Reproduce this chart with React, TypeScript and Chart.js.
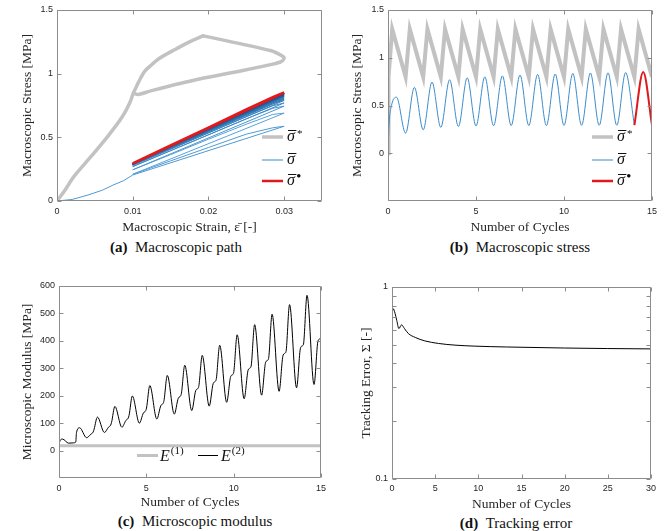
import React, { useEffect, useRef } from 'react';
import { Chart, registerables } from 'chart.js';

Chart.register(...registerables);

const SERIF = '"Liberation Serif", "Times New Roman", serif';
const SANS = '"Liberation Sans", Arial, Helvetica, sans-serif';
const INK = '#262626';
const FRAME = '#8c8c8c';
const GRAY = '#c2c2c2';
const RED = '#e0191c';
const BLUE = '#3b8ccb';

// ---------------- (a) Macroscopic path ----------------
const aXTicks = [0, 0.01, 0.02, 0.03];
const aXLabels = ['0', '0.01', '0.02', '0.03'];
const aYTicks = [0, 0.5, 1, 1.5];
const aYLabels = ['0', '0.5', '1', '1.5'];
// rising part of the reference path (origin -> peak)
const aStarRiseStrain = [0, 0.001, 0.0022, 0.0045, 0.0066, 0.0086, 0.0096, 0.0101, 0.0105, 0.011, 0.0116, 0.0125, 0.0134, 0.0145, 0.0156, 0.0175, 0.0193];
const aStarRiseStress = [0, 0.08, 0.19, 0.35, 0.5, 0.66, 0.77, 0.85, 0.9, 0.96, 1.02, 1.07, 1.115, 1.155, 1.19, 1.25, 1.297];
// falling part (peak -> tip -> lower branch -> back to the knee)
const aStarFallStrain = [0.0193, 0.0283, 0.0297, 0.03, 0.0296, 0.0285, 0.0244, 0.0178, 0.0125, 0.0107, 0.0102];
const aStarFallStress = [1.297, 1.18, 1.14, 1.12, 1.095, 1.075, 1.023, 0.945, 0.867, 0.836, 0.845];
const aInitStrain = [0, 0.002, 0.0041, 0.006, 0.0074, 0.0088, 0.01];
const aInitStress = [0, 0.012, 0.047, 0.085, 0.125, 0.16, 0.204];
const aTrough = [0.204, 0.21, 0.245, 0.27, 0.28, 0.285, 0.288, 0.29, 0.29, 0.29, 0.292, 0.292, 0.293, 0.293, 0.294, 0.295];
const aPeak = [0.587, 0.69, 0.745, 0.77, 0.79, 0.8, 0.81, 0.82, 0.825, 0.83, 0.835, 0.84, 0.842, 0.845, 0.852];
const aUnloadStrain = [0.0285, 0.025, 0.02, 0.015];
const aUnloadStress = [
  [0.575, 0.525, 0.42, 0.315],
  [0.68, 0.603, 0.485, 0.364],
  [0.728, 0.645, 0.52, 0.395],
  [0.748, 0.662, 0.535, 0.407],
  [0.765, 0.676, 0.546, 0.415],
  [0.773, 0.682, 0.551, 0.419],
  [0.781, 0.689, 0.556, 0.423],
  [0.789, 0.696, 0.561, 0.425],
  [0.793, 0.699, 0.563, 0.426],
  [0.797, 0.703, 0.566, 0.429],
  [0.801, 0.706, 0.568, 0.43],
  [0.805, 0.709, 0.571, 0.432],
  [0.807, 0.711, 0.572, 0.432],
  [0.81, 0.713, 0.574, 0.434],
  [0.815, 0.72, 0.577, 0.436],
];
const aLoopColors = ['#4f9ad3', '#5aa2d8', '#4a95cf', '#3f8bc7', '#3783c0', '#307bb8', '#2b74b1', '#276daa', '#2366a3', '#20609c', '#1d5a95', '#1b548e', '#194f88', '#174a82'];

// ---------------- (b) Macroscopic stress ----------------
const bXTicks = [0, 5, 10, 15];
const bXLabels = ['0', '5', '10', '15'];
const bYTicks = [0, 0.5, 1, 1.5];
const bYLabels = ['0', '0.5', '1', '1.5'];
const bStarT = [0, 0.03, 0.24, 1, 1.24, 2, 2.24, 3, 3.24, 4, 4.24, 5, 5.24, 6, 6.24, 7, 7.24, 8, 8.24, 9, 9.24, 10, 10.24, 11, 11.24, 12, 12.24, 13, 13.24, 14, 14.24, 15];
const bStarV = [0, 0.8, 1.3, 0.8, 1.3, 0.8, 1.3, 0.8, 1.3, 0.8, 1.3, 0.8, 1.3, 0.8, 1.3, 0.8, 1.3, 0.8, 1.3, 0.8, 1.3, 0.8, 1.3, 0.8, 1.3, 0.8, 1.3, 0.8, 1.3, 0.8, 1.3, 0.8];
const bSigT = [0, 0.06, 0.2, 0.48, 1, 1.5, 2, 2.5, 3, 3.5, 4, 4.5, 5, 5.5, 6, 6.5, 7, 7.5, 8, 8.5, 9, 9.5, 10, 10.5, 11, 11.5, 12, 12.5, 13, 13.5, 14];
const bSigV = [0, 0.3, 0.5, 0.587, 0.21, 0.69, 0.245, 0.745, 0.27, 0.77, 0.28, 0.79, 0.285, 0.8, 0.288, 0.81, 0.29, 0.82, 0.29, 0.825, 0.29, 0.83, 0.292, 0.835, 0.292, 0.84, 0.293, 0.842, 0.293, 0.845, 0.294];
const bRedT = [14, 14.5, 15];
const bRedV = [0.294, 0.852, 0.295];

// ---------------- (c) Microscopic modulus ----------------
const cXTicks = [0, 5, 10, 15];
const cXLabels = ['0', '5', '10', '15'];
const cYTicks = [0, 100, 200, 300, 400, 500, 600];
const cYLabels = ['0', '100', '200', '300', '400', '500', '600'];
const cE1T = [0, 15];
const cE1V = [18, 18];
const cE2T = [
  0, 0.06, 0.2, 0.55, 0.8, 0.96, 1.0, 1.18, 1.58,
  1.83, 1.96, 2.01, 2.2, 2.6,
  2.83, 2.96, 3.01, 3.2, 3.6,
  3.83, 3.96, 4.01, 4.2, 4.6,
  4.83, 4.96, 5.01, 5.2, 5.6,
  5.83, 5.96, 6.01, 6.2, 6.6,
  6.83, 6.96, 7.01, 7.2, 7.6,
  7.83, 7.96, 8.01, 8.2, 8.6,
  8.83, 8.96, 9.01, 9.2, 9.6,
  9.83, 9.96, 10.01, 10.2, 10.6,
  10.83, 10.96, 11.01, 11.2, 11.6,
  11.83, 11.96, 12.01, 12.2, 12.6,
  12.83, 12.96, 13.01, 13.2, 13.6,
  13.83, 13.96, 14.01, 14.2, 14.6,
  14.83, 14.96, 15,
];
const cE2V = [
  22, 36, 42, 27, 28, 31, 65, 83, 47,
  60, 68, 78, 122, 66,
  85, 93, 103, 161, 85,
  110, 118, 128, 199, 100,
  137, 145, 155, 237, 115,
  164, 172, 182, 274, 133,
  191, 199, 209, 311, 146,
  219, 227, 237, 347, 162,
  245, 253, 263, 384, 176,
  270, 278, 288, 422, 189,
  294, 302, 312, 459, 202,
  322, 330, 340, 497, 216,
  348, 356, 366, 532, 229,
  375, 383, 393, 566, 241,
  400, 408, 412,
];

// ---------------- (d) Tracking error ----------------
const dXTicks = [0, 5, 10, 15, 20, 25, 30];
const dXLabels = ['0', '5', '10', '15', '20', '25', '30'];
const dYTicks = [0.1, 0.2, 0.3, 0.4, 0.5, 0.6, 0.7, 0.8, 0.9, 1];
const dYLabels = ['0.1', '', '', '', '', '', '', '', '', '1'];
const dT = [0, 0.15, 0.35, 0.55, 0.8, 1.1, 1.45, 1.9, 2.7, 3.8, 5.4, 7.3, 9.6, 13.3, 20, 25, 30];
const dV = [0.72, 0.77, 0.73, 0.67, 0.607, 0.635, 0.607, 0.572, 0.546, 0.524, 0.508, 0.498, 0.492, 0.487, 0.481, 0.478, 0.476];

const zip = (xs: number[], ys: number[]) => xs.map((x, i) => ({ x, y: ys[i] }));

function loopPoints(k: number) {
  const pts = [{ x: 0.01, y: aTrough[k] }, { x: 0.03, y: aPeak[k] }];
  aUnloadStrain.forEach((s, i) => pts.push({ x: s, y: aUnloadStress[k][i] }));
  pts.push({ x: 0.01, y: aTrough[k + 1] });
  return pts;
}

function drawSigma(ctx: CanvasRenderingContext2D, x: number, y: number, sup: string) {
  ctx.fillStyle = '#111';
  ctx.textAlign = 'left';
  ctx.textBaseline = 'alphabetic';
  ctx.font = `italic 16px ${SERIF}`;
  const base = y + 4;
  ctx.fillText('σ', x, base);
  const w = ctx.measureText('σ').width;
  ctx.strokeStyle = '#111';
  ctx.lineWidth = 1;
  const oy = Math.round(base - 11) + 0.5;
  ctx.beginPath();
  ctx.moveTo(x + 1, oy);
  ctx.lineTo(x + w + 1.5, oy);
  ctx.stroke();
  if (sup === '*') {
    ctx.font = `11px ${SERIF}`;
    ctx.fillText('*', x + w + 2, base - 4);
  } else if (sup === 'dot') {
    ctx.font = `bold 13px ${SERIF}`;
    ctx.fillText('•', x + w + 1.5, base - 5);
  }
}

type Area = { left: number; right: number; top: number; bottom: number };

function sigmaLegend(ctx: CanvasRenderingContext2D, a: Area) {
  const items = [
    { dy: -64, color: GRAY, width: 3.5, sup: '*' },
    { dy: -41, color: '#5a9fd4', width: 1.2, sup: '' },
    { dy: -20, color: RED, width: 2.5, sup: 'dot' },
  ];
  items.forEach((it) => {
    const y = Math.round(a.bottom) + it.dy;
    ctx.strokeStyle = it.color;
    ctx.lineWidth = it.width;
    ctx.lineCap = 'butt';
    ctx.beginPath();
    ctx.moveTo(a.right - 60, y);
    ctx.lineTo(a.right - 39, y);
    ctx.stroke();
    drawSigma(ctx, a.right - 35, y, it.sup);
  });
}

function eLegend(ctx: CanvasRenderingContext2D, a: Area) {
  const y = Math.round(a.bottom) - 23;
  const items = [
    { x0: 78, x1: 99, tx: 101, color: GRAY, width: 3, sup: '(1)' },
    { x0: 139, x1: 159, tx: 162, color: '#000', width: 1, sup: '(2)' },
  ];
  items.forEach((it) => {
    ctx.strokeStyle = it.color;
    ctx.lineWidth = it.width;
    ctx.beginPath();
    ctx.moveTo(a.left + it.x0, y + 0.5);
    ctx.lineTo(a.left + it.x1, y + 0.5);
    ctx.stroke();
    ctx.fillStyle = '#111';
    ctx.textAlign = 'left';
    ctx.textBaseline = 'alphabetic';
    ctx.font = `italic 16px ${SERIF}`;
    ctx.fillText('E', a.left + it.tx, y + 6);
    const w = ctx.measureText('E').width;
    ctx.font = `11px ${SERIF}`;
    ctx.fillText(it.sup, a.left + it.tx + w + 1, y - 1);
  });
}

function framePlugin(legend?: (ctx: CanvasRenderingContext2D, a: Area) => void) {
  return {
    id: 'matlabFrame',
    afterDatasetsDraw(chart: any) {
      const { ctx, chartArea: a } = chart;
      const xs = chart.scales.x;
      const ys = chart.scales.y;
      ctx.save();
      ctx.strokeStyle = FRAME;
      ctx.lineWidth = 1;
      const L = Math.round(a.left) + 0.5;
      const R = Math.round(a.right) - 0.5;
      const T = Math.round(a.top) + 0.5;
      const B = Math.round(a.bottom) - 0.5;
      ctx.beginPath();
      ctx.rect(L, T, R - L, B - T);
      xs.ticks.forEach((t: any) => {
        const p = Math.round(xs.getPixelForValue(t.value)) + 0.5;
        ctx.moveTo(p, B);
        ctx.lineTo(p, B - 4);
        ctx.moveTo(p, T);
        ctx.lineTo(p, T + 4);
      });
      ys.ticks.forEach((t: any) => {
        const p = Math.round(ys.getPixelForValue(t.value)) + 0.5;
        ctx.moveTo(L, p);
        ctx.lineTo(L + 4, p);
        ctx.moveTo(R, p);
        ctx.lineTo(R - 4, p);
      });
      ctx.stroke();
      if (legend) legend(ctx, a);
      ctx.restore();
    },
  };
}

type OptP = {
  xMin: number; xMax: number; xTicks: number[]; xLabels: string[]; xTitle: string; xHeight: number; xPad: number;
  yMin: number; yMax: number; yTicks: number[]; yLabels: string[]; yTitle: string; yWidth: number; yTitlePad: number;
  yType?: string; padding: any;
};

function buildOptions(p: OptP) {
  return {
    responsive: false,
    animation: false,
    events: [],
    layout: { autoPadding: false, padding: p.padding },
    plugins: { legend: { display: false }, tooltip: { enabled: false } },
    elements: { point: { radius: 0 } },
    scales: {
      x: {
        type: 'linear',
        position: 'bottom',
        min: p.xMin,
        max: p.xMax,
        grid: { display: false, drawTicks: false },
        border: { display: false },
        afterBuildTicks: (s: any) => { s.ticks = p.xTicks.map((v) => ({ value: v })); },
        afterFit: (s: any) => { s.height = p.xHeight; },
        ticks: {
          padding: p.xPad, color: INK, font: { family: SANS, size: 9 }, maxRotation: 0, minRotation: 0, autoSkip: false,
          callback: (_v: any, i: number) => p.xLabels[i],
        },
        title: { display: true, text: p.xTitle, color: INK, font: { family: SERIF, size: 13.5 }, padding: { top: 0, bottom: 0 } },
      },
      y: {
        type: p.yType || 'linear',
        position: 'left',
        min: p.yMin,
        max: p.yMax,
        grid: { display: false, drawTicks: false },
        border: { display: false },
        afterBuildTicks: (s: any) => { s.ticks = p.yTicks.map((v) => ({ value: v })); },
        afterFit: (s: any) => { s.width = p.yWidth; },
        ticks: {
          padding: 4, color: INK, font: { family: SANS, size: 9 }, autoSkip: false,
          callback: (_v: any, i: number) => p.yLabels[i],
        },
        title: { display: true, text: p.yTitle, color: INK, font: { family: SERIF, size: 13.5 }, padding: { top: p.yTitlePad, bottom: 0 } },
      },
    },
  };
}

function configA() {
  const loops = aLoopColors.map((c, k) => ({
    data: k === 0 ? [...zip(aInitStrain, aInitStress), ...loopPoints(0).slice(1)] : loopPoints(k),
    borderColor: c,
    borderWidth: 1,
    order: 20 - k,
  }));
  return {
    type: 'line',
    data: {
      datasets: [
        { data: loopPoints(14), borderColor: RED, borderWidth: 2.5, order: 0 },
        ...loops,
        { data: zip(aStarRiseStrain, aStarRiseStress), borderColor: GRAY, borderWidth: 3.5, order: 50, tension: 0.35, borderJoinStyle: 'round', borderCapStyle: 'round' },
        { data: zip(aStarFallStrain, aStarFallStress), borderColor: GRAY, borderWidth: 3.5, order: 51, tension: 0.3, borderJoinStyle: 'round', borderCapStyle: 'round' },
      ],
    },
    options: buildOptions({
      xMin: 0, xMax: 0.035, xTicks: aXTicks, xLabels: aXLabels, xTitle: 'Macroscopic Strain, ε̄ [-]', xHeight: 35, xPad: 5,
      yMin: 0, yMax: 1.5, yTicks: aYTicks, yLabels: aYLabels, yTitle: 'Macroscopic Stress [MPa]', yWidth: 57, yTitlePad: 19,
      padding: { top: 10, right: 10, left: 0, bottom: 0 },
    }),
    plugins: [framePlugin(sigmaLegend)],
  };
}

function configB() {
  return {
    type: 'line',
    data: {
      datasets: [
        { data: zip(bRedT, bRedV), borderColor: RED, borderWidth: 2, cubicInterpolationMode: 'monotone', order: 0 },
        { data: zip(bSigT, bSigV), borderColor: BLUE, borderWidth: 1, cubicInterpolationMode: 'monotone', order: 1 },
        { data: zip(bStarT, bStarV), borderColor: GRAY, borderWidth: 4, order: 2 },
      ],
    },
    options: buildOptions({
      xMin: 0, xMax: 15, xTicks: bXTicks, xLabels: bXLabels, xTitle: 'Number of Cycles', xHeight: 35, xPad: 5,
      yMin: -0.5, yMax: 1.5, yTicks: bYTicks, yLabels: bYLabels, yTitle: 'Macroscopic Stress [MPa]', yWidth: 56, yTitlePad: 17,
      padding: { top: 10, right: 12, left: 0, bottom: 0 },
    }),
    plugins: [framePlugin(sigmaLegend)],
  };
}

function configC() {
  return {
    type: 'line',
    data: {
      datasets: [
        { data: zip(cE2T, cE2V), borderColor: '#000', borderWidth: 1, cubicInterpolationMode: 'monotone', order: 0 },
        { data: zip(cE1T, cE1V), borderColor: GRAY, borderWidth: 3, order: 1 },
      ],
    },
    options: buildOptions({
      xMin: 0, xMax: 15, xTicks: cXTicks, xLabels: cXLabels, xTitle: 'Number of Cycles', xHeight: 33, xPad: 5,
      yMin: -100, yMax: 600, yTicks: cYTicks, yLabels: cYLabels, yTitle: 'Microscopic Modulus [MPa]', yWidth: 59, yTitlePad: 19,
      padding: { top: 10, right: 11, left: 0, bottom: 0 },
    }),
    plugins: [framePlugin(eLegend)],
  };
}

function configD() {
  return {
    type: 'line',
    data: {
      datasets: [
        { data: zip(dT, dV), borderColor: '#000', borderWidth: 1, cubicInterpolationMode: 'monotone' },
      ],
    },
    options: buildOptions({
      xMin: 0, xMax: 30, xTicks: dXTicks, xLabels: dXLabels, xTitle: 'Number of Cycles', xHeight: 34, xPad: 4,
      yMin: 0.1, yMax: 1, yTicks: dYTicks, yLabels: dYLabels, yTitle: 'Tracking Error, Σ [-]', yWidth: 60, yTitlePad: 26,
      yType: 'logarithmic',
      padding: { top: 11, right: 13, left: 0, bottom: 0 },
    }),
    plugins: [framePlugin()],
  };
}

function Panel({ make, left, top, width, height }: { make: () => any; left: number; top: number; width: number; height: number }) {
  const ref = useRef<HTMLCanvasElement>(null);
  useEffect(() => {
    const chart = new Chart(ref.current as HTMLCanvasElement, make());
    return () => chart.destroy();
  }, []);
  return (
    <canvas
      ref={ref}
      width={width}
      height={height}
      style={{ position: 'absolute', left, top, width, height }}
    />
  );
}

function Caption({ x, y, tag, text }: { x: number; y: number; tag: string; text: string }) {
  return (
    <div
      style={{
        position: 'absolute', left: x, top: y, transform: 'translate(-50%, -50%)',
        fontFamily: SERIF, fontSize: 15, lineHeight: '17px', whiteSpace: 'nowrap', color: '#111',
      }}
    >
      <b>{tag}</b>{'\u2002'}{text}
    </div>
  );
}

export default function App() {
  return (
    <div style={{ position: 'fixed', left: 0, top: 0, width: 664, height: 531, background: '#fff', overflow: 'hidden' }}>
      <Panel make={configA} left={0} top={0} width={332} height={236} />
      <Panel make={configB} left={332} top={0} width={332} height={236} />
      <Panel make={configC} left={0} top={276} width={332} height={235} />
      <Panel make={configD} left={332} top={276} width={332} height={237} />
      <Caption x={176} y={247} tag="(a)" text="Macroscopic path" />
      <Caption x={520} y={247} tag="(b)" text="Macroscopic stress" />
      <Caption x={195} y={521} tag="(c)" text="Microscopic modulus" />
      <Caption x={516} y={523} tag="(d)" text="Tracking error" />
    </div>
  );
}
